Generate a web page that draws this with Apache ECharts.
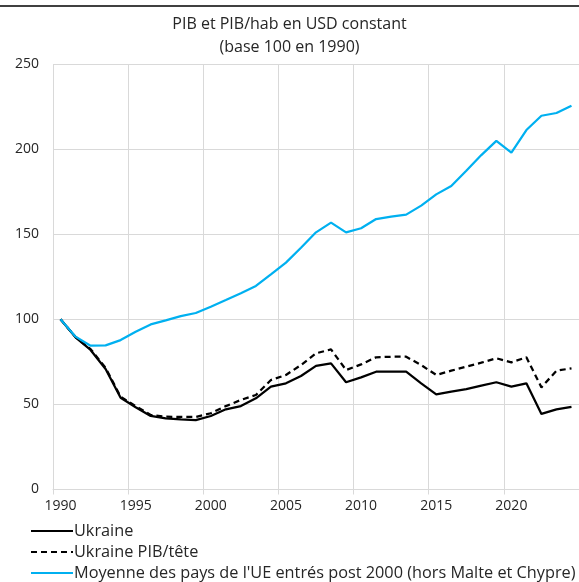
<!DOCTYPE html>
<html>
<head>
<meta charset="utf-8">
<script src="https://cdn.jsdelivr.net/npm/echarts@6/dist/echarts.min.js"></script>
<style>
  html, body { margin: 0; padding: 0; background: #fff; }
  #chart { width: 579px; height: 582px; }
</style>
</head>
<body>
<div id="chart"></div>
<script>
// années 1990 -> 2024
const years = []
for (let y = 1990; y <= 2024; y++) years.push(String(y))

const ukraine = [
  100, 89.4, 82, 70.8, 53.9, 48.3, 43.2, 41.8, 41.2, 40.8,
  43.2, 47.1, 49, 53.6, 60.4, 62.4, 66.7, 72.6, 74.1, 63,
  65.9, 69.2, 69.2, 69.2, 62.4, 55.9, 57.5, 59, 61, 63,
  60.4, 62.4, 44.4, 47.1, 48.5
]

const ukraineParTete = [
  100, 89.6, 82.5, 71.5, 54.5, 49, 43.8, 42.8, 42.6, 42.6,
  44.8, 49, 52.6, 55.5, 64.3, 67.3, 73.1, 80, 82.3, 70.2,
  73.5, 77.7, 78, 78, 73.1, 67.3, 69.8, 72.2, 74.5, 77.1,
  74.7, 77.7, 60, 69.8, 71.2
]

const moyenneUE = [
  100, 89.8, 84.5, 84.7, 87.8, 92.7, 97, 99.4, 101.9, 103.7,
  107.4, 111.3, 115.3, 119.6, 126.4, 133.3, 142, 151.1, 156.8, 151.1,
  153.5, 158.9, 160.3, 161.5, 166.8, 173.4, 178.3, 187.3, 196.5, 204.8,
  197.9, 211.2, 219.6, 221.2, 225.5
]

const FONT = 'Open Sans'
const GRID_COLOR = '#d9d9d9'

const chart = echarts.init(document.getElementById('chart'))

chart.setOption({
  animation: false,
  textStyle: { fontFamily: FONT },
  title: {
    text: 'PIB et PIB/hab en USD constant\n(base 100 en 1990)',
    left: 'center',
    top: 8,
    textStyle: { fontFamily: FONT, fontSize: 16, fontWeight: 'normal', color: '#262626', lineHeight: 23 }
  },
  graphic: [{
    type: 'line',
    shape: { x1: 0, y1: 6, x2: 579, y2: 6 },
    style: { stroke: '#000', lineWidth: 1.5 }
  }],
  grid: { left: 53, top: 64, width: 530, height: 425.5, containLabel: false },
  legend: {
    orient: 'vertical',
    left: 30,
    top: 523,
    padding: 0,
    itemWidth: 42,
    itemHeight: 14,
    itemGap: 5,
    itemStyle: { opacity: 0 },
    textStyle: { fontFamily: FONT, fontSize: 16.3, color: '#262626', padding: [0, 0, 0, -4] },
    data: ['Ukraine', 'Ukraine PIB/tête', "Moyenne des pays de l'UE entrés post 2000 (hors Malte et Chypre)"]
  },
  xAxis: {
    type: 'category',
    data: years,
    boundaryGap: true,
    axisLine: { show: true, lineStyle: { color: GRID_COLOR, width: 1 } },
    axisTick: { show: true, interval: 4, length: 5, lineStyle: { color: GRID_COLOR } },
    axisLabel: { interval: 4, fontSize: 14, color: '#262626', margin: 10 },
    splitLine: { show: true, interval: 4, lineStyle: { color: GRID_COLOR, width: 1 } }
  },
  yAxis: {
    type: 'value',
    min: 0,
    max: 250,
    interval: 50,
    axisLine: { show: false },
    axisTick: { show: false },
    axisLabel: { fontSize: 14, color: '#262626', margin: 14 },
    splitLine: { show: true, lineStyle: { color: GRID_COLOR, width: 1 } }
  },
  series: [
    {
      name: 'Ukraine',
      type: 'line',
      data: ukraine,
      symbol: 'none',
      lineStyle: { color: '#000', width: 2.25 },
      itemStyle: { color: '#000' }
    },
    {
      name: 'Ukraine PIB/tête',
      type: 'line',
      data: ukraineParTete,
      symbol: 'none',
      lineStyle: { color: '#000', width: 2.25, type: [6, 4] },
      itemStyle: { color: '#000' }
    },
    {
      name: "Moyenne des pays de l'UE entrés post 2000 (hors Malte et Chypre)",
      type: 'line',
      data: moyenneUE,
      symbol: 'none',
      lineStyle: { color: '#00b0f0', width: 2.25 },
      itemStyle: { color: '#00b0f0' }
    }
  ]
})
</script>
</body>
</html>
